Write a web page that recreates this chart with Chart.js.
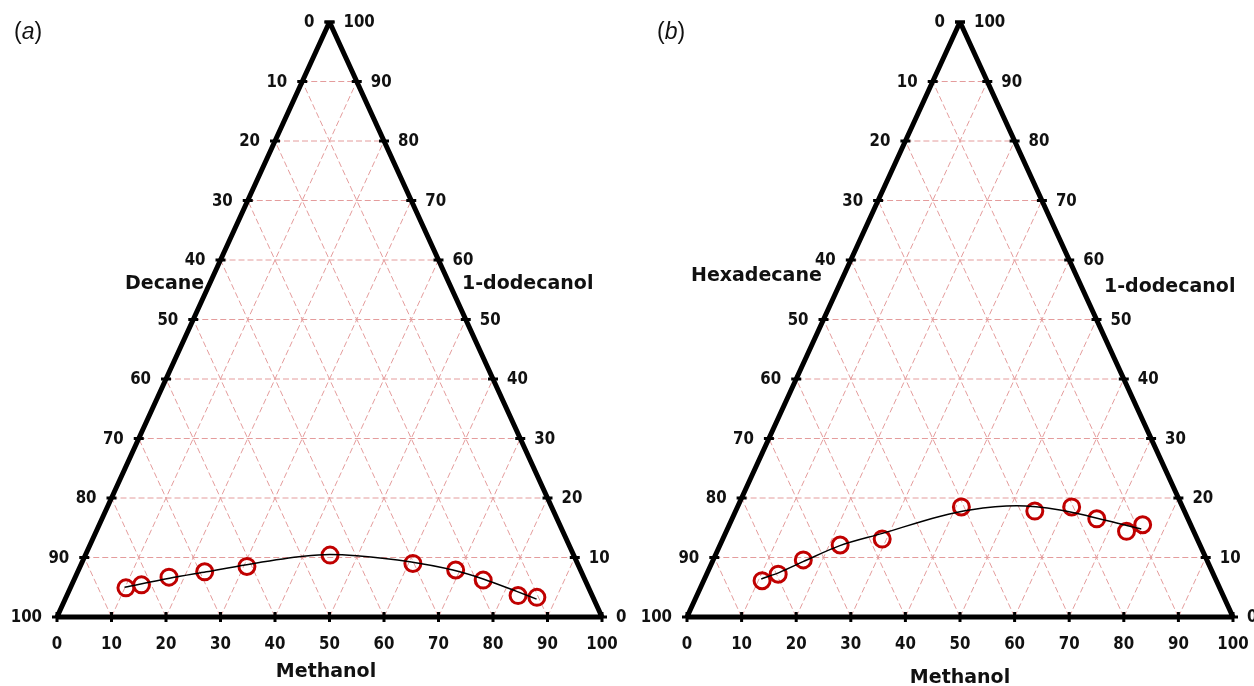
<!DOCTYPE html>
<html>
<head>
<meta charset="utf-8">
<script src="https://cdn.jsdelivr.net/npm/chart.js@4.4.1/dist/chart.umd.min.js"></script>
<style>
  body { margin: 0; background: #fff; width: 1254px; height: 686px; overflow: hidden; position: relative; }
  canvas { position: absolute; top: 0; }
  #chartA { left: 0; }
  #chartB { left: 627px; }
</style>
</head>
<body>
<canvas id="chartA" width="627" height="686"></canvas>
<canvas id="chartB" width="627" height="686"></canvas>
<script>
// tick values on the three sides
const levels = [0, 10, 20, 30, 40, 50, 60, 70, 80, 90, 100];

// (a) decane / methanol / 1-dodecanol (%)
const aMethanol  = [10.2, 12.8, 17.2, 23.3, 30.6, 44.9, 60.8, 69.2, 75.1, 82.8, 86.4];
const aDodecanol = [4.9, 5.4, 6.7, 7.6, 8.5, 10.4, 9.0, 7.9, 6.2, 3.6, 3.3];
const aFitMethanol  = [9.9, 17.4, 23.6, 30.4, 40.1, 44.8, 49.8, 60.1, 68.7, 75.0, 82.2, 86.5];
const aFitDodecanol = [5.0, 6.5, 7.6, 8.8, 10.2, 10.5, 10.3, 9.3, 7.9, 6.4, 4.3, 3.0];

// (b) hexadecane / methanol / 1-dodecanol
const bMethanol  = [10.7, 13.1, 16.5, 22.0, 29.2, 41.0, 54.8, 61.2, 66.8, 73.3, 75.7];
const bDodecanol = [6.1, 7.2, 9.6, 12.1, 13.1, 18.5, 17.8, 18.5, 16.5, 14.4, 15.5];
const bFitMethanol  = [10.4, 13.2, 16.6, 22.0, 28.9, 37.8, 42.8, 51.0, 59.3, 65.3, 70.8, 75.8];
const bFitDodecanol = [6.4, 7.5, 9.3, 12.0, 14.1, 16.9, 18.0, 18.7, 18.0, 16.9, 15.8, 14.8];

// ternary -> cartesian (methanol bottom-right, dodecanol at the apex)
function toXY(methanol, dodecanol) {
    return methanol.map((m, i) => ({ x: m + dodecanol[i] / 2, y: dodecanol[i] }));
}

function gridDatasets() {
    let sets = [];
    levels.slice(1, -1).forEach(k => {
        sets.push([{ x: k / 2, y: k }, { x: 100 - k / 2, y: k }]);
        sets.push([{ x: k, y: 0 }, { x: k / 2, y: k }]);
        sets.push([{ x: k, y: 0 }, { x: (k + 100) / 2, y: 100 - k }]);
    });
    return sets.map(d => ({
        data: d, showLine: true, borderColor: '#e49c9c', borderWidth: 1,
        borderDash: [6, 3], pointRadius: 0, order: 5, clip: false
    }));
}

function tickDataset(points, rotation) {
    return {
        data: points, showLine: false, pointStyle: 'line', pointRadius: 5,
        pointRotation: rotation, pointBorderWidth: 3, pointBorderColor: '#000',
        order: 3, clip: false
    };
}

function tickText(ctx, s, px, py, align) {
    ctx.save();
    ctx.translate(px, py);
    ctx.scale(1, 1.12);
    ctx.textAlign = align;
    ctx.fillText(s, 0, 0);
    ctx.restore();
}

const ternaryText = {
    id: 'ternaryText',
    afterDraw(chart, args, opts) {
        const { ctx, scales: { x, y } } = chart;
        ctx.save();
        ctx.fillStyle = '#111';
        ctx.textBaseline = 'middle';
        ctx.font = 'bold 15px "DejaVu Sans"';
        levels.forEach(v => {
            const h = 100 - v;
            tickText(ctx, String(v), x.getPixelForValue(h / 2) - 15, y.getPixelForValue(h) + 1, 'right');
            tickText(ctx, String(v), x.getPixelForValue(100 - v / 2) + 14, y.getPixelForValue(v) + 1, 'left');
            tickText(ctx, String(v), x.getPixelForValue(v), y.getPixelForValue(0) + 28, 'center');
        });
        ctx.font = 'bold 19px "DejaVu Sans"';
        opts.titles.forEach(t => {
            ctx.textAlign = t.align;
            ctx.fillText(t.text, t.x, t.y);
        });
        // panel letter, italic inside plain brackets
        ctx.textAlign = 'left';
        let px = opts.panel.x;
        ctx.font = '23px "Liberation Sans"';
        ctx.fillText('(', px, opts.panel.y);
        px += ctx.measureText('(').width;
        ctx.font = 'italic 23px "Liberation Sans"';
        ctx.fillText(opts.panel.letter, px, opts.panel.y);
        px += ctx.measureText(opts.panel.letter).width;
        ctx.font = '23px "Liberation Sans"';
        ctx.fillText(')', px, opts.panel.y);
        ctx.restore();
    }
};

function createTernary(canvasId, points, fit, padding, titles, panel) {
    const datasets = [
        {
            data: fit, showLine: true, borderColor: '#000', borderWidth: 1.5,
            pointRadius: 0, cubicInterpolationMode: 'monotone', order: 0, clip: false
        },
        {
            data: points, showLine: false, pointRadius: 8, pointStyle: 'circle',
            pointBorderWidth: 3, pointBorderColor: '#c00000',
            pointBackgroundColor: 'rgba(0,0,0,0)', order: 1, clip: false
        },
        {
            data: [{ x: 0, y: 0 }, { x: 50, y: 100 }, { x: 100, y: 0 }, { x: 0, y: 0 }, { x: 50, y: 100 }],
            showLine: true, borderColor: '#000', borderWidth: 5, borderJoinStyle: 'bevel',
            pointRadius: 0, order: 4, clip: false
        },
        tickDataset(levels.map(h => ({ x: h / 2, y: h })), 0),
        tickDataset(levels.map(h => ({ x: 100 - h / 2, y: h })), 0),
        tickDataset(levels.map(m => ({ x: m, y: 0 })), 90),
        ...gridDatasets()
    ];

    return new Chart(document.getElementById(canvasId), {
        type: 'scatter',
        data: { datasets: datasets },
        options: {
            responsive: false,
            animation: false,
            events: [],
            layout: { padding: padding },
            scales: {
                x: { type: 'linear', min: 0, max: 100, display: false },
                y: { type: 'linear', min: 0, max: 100, display: false }
            },
            plugins: {
                legend: { display: false },
                tooltip: { enabled: false },
                ternaryText: { titles: titles, panel: panel }
            }
        },
        plugins: [ternaryText]
    });
}

createTernary('chartA',
    toXY(aMethanol, aDodecanol), toXY(aFitMethanol, aFitDodecanol),
    { left: 57, right: 25, top: 22, bottom: 69 },
    [
        { text: 'Decane', x: 125, y: 284, align: 'left' },
        { text: '1-dodecanol', x: 462, y: 284, align: 'left' },
        { text: 'Methanol', x: 326, y: 672, align: 'center' }
    ],
    { letter: 'a', x: 14, y: 33 });

createTernary('chartB',
    toXY(bMethanol, bDodecanol), toXY(bFitMethanol, bFitDodecanol),
    { left: 60, right: 21, top: 22, bottom: 69 },
    [
        { text: 'Hexadecane', x: 64, y: 276, align: 'left' },
        { text: '1-dodecanol', x: 477, y: 287, align: 'left' },
        { text: 'Methanol', x: 333, y: 678, align: 'center' }
    ],
    { letter: 'b', x: 30, y: 33 });
</script>
</body>
</html>
